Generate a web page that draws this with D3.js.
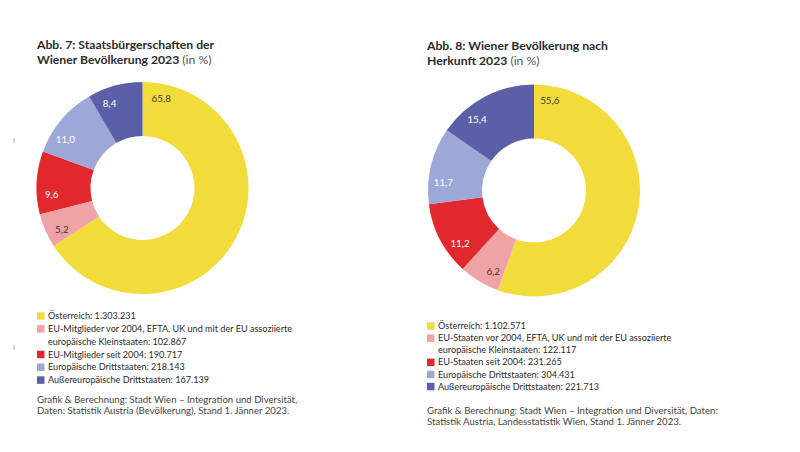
<!DOCTYPE html>
<html><head><meta charset="utf-8">
<script src="https://cdn.jsdelivr.net/npm/d3@7"></script>
<style>body{margin:0;background:#fff;} svg{display:block;}</style>
</head><body>
<script>
// ---- data ----
const colors = ["#f1dc3b", "#f0a3a5", "#e1282c", "#9da8d9", "#5b5fa7"];
const labelColors = ["#3a3a2a", "#3a3a3a", "#ffffff", "#ffffff", "#ffffff"];

const leftTitle = ["Abb. 7: Staatsbürgerschaften der", "Wiener Bevölkerung 2023"];
const leftValues = [65.8, 5.2, 9.6, 11.0, 8.4];
const leftLegend = [
  ["Österreich: 1.303.231"],
  ["EU-Mitglieder vor 2004, EFTA, UK und mit der EU assoziierte", "europäische Kleinstaaten: 102.867"],
  ["EU-Mitglieder seit 2004: 190.717"],
  ["Europäische Drittstaaten: 218.143"],
  ["Außereuropäische Drittstaaten: 167.139"]
];
const leftSource = ["Grafik & Berechnung: Stadt Wien – Integration und Diversität,",
                    "Daten: Statistik Austria (Bevölkerung), Stand 1. Jänner 2023."];

const rightTitle = ["Abb. 8: Wiener Bevölkerung nach", "Herkunft 2023"];
const rightValues = [55.6, 6.2, 11.2, 11.7, 15.4];
const rightLegend = [
  ["Österreich: 1.102.571"],
  ["EU-Staaten vor 2004, EFTA, UK und mit der EU assoziierte", "europäische Kleinstaaten: 122.117"],
  ["EU-Staaten seit 2004: 231.265"],
  ["Europäische Drittstaaten: 304.431"],
  ["Außereuropäische Drittstaaten: 221.713"]
];
const rightSource = ["Grafik & Berechnung: Stadt Wien – Integration und Diversität, Daten:",
                     "Statistik Austria, Landesstatistik Wien, Stand 1. Jänner 2023."];

// ---- layout ----
const W = 800, H = 452;
const svg = d3.select("body").append("svg").attr("width", W).attr("height", H);
const font = "Lato, 'Open Sans', sans-serif";

const panels = [
  {x: 37, title: leftTitle, titleY: 49, cx: 142.5, cy: 188, values: leftValues,
   legend: leftLegend, legendY: 316, legendStep: 12.8, source: leftSource, sourceY: 399.5},
  {x: 427, title: rightTitle, titleY: 50, cx: 534, cy: 190.5, values: rightValues,
   legend: rightLegend, legendY: 326, legendStep: 12.1, source: rightSource, sourceY: 410.5}
];

const fmt = v => d3.format(".1f")(v).replace(".", ",");

panels.forEach(p => {
  const g = svg.append("g");
  // title
  p.title.forEach((line, i) => {
    const t = g.append("text").attr("x", p.x).attr("y", p.titleY + i * 14.5)
      .attr("font-family", font).attr("font-size", 12.2).attr("font-weight", 700)
      .attr("fill", "#2b2b2b").text(line);
    if (i === p.title.length - 1) {
      t.append("tspan").attr("font-weight", 400).attr("fill", "#555").text(" (in %)");
    }
  });

  // donut
  const pie = d3.pie().sort(null).value(d => d).startAngle(0).endAngle(2 * Math.PI);
  const arcs = pie(p.values);
  const arc = d3.arc().innerRadius(52).outerRadius(106);
  const dg = g.append("g").attr("transform", `translate(${p.cx},${p.cy})`);
  dg.selectAll("path").data(arcs).join("path")
    .attr("d", arc).attr("fill", (d, i) => colors[i]);

  dg.selectAll("text").data(arcs).join("text")
    .attr("transform", (d, i) => {
      const frac = i === 0 ? 0.05 : 0.3;
      const a = d.startAngle + frac * (d.endAngle - d.startAngle);
      const r = 91;
      return `translate(${Math.sin(a) * r},${-Math.cos(a) * r})`;
    })
    .attr("text-anchor", "middle").attr("dy", "0.35em")
    .attr("font-family", font).attr("font-size", 9.8)
    .attr("fill", (d, i) => labelColors[i])
    .text(d => fmt(d.data));

  // legend
  let row = 0;
  p.legend.forEach((lines, i) => {
    const y0 = p.legendY + row * p.legendStep;
    g.append("rect").attr("x", p.x).attr("y", y0 - 3.7).attr("width", 7.5).attr("height", 7.5)
      .attr("fill", colors[i]);
    lines.forEach((line, j) => {
      g.append("text").attr("x", p.x + 11).attr("y", p.legendY + (row + j) * p.legendStep)
        .attr("dy", "0.35em").attr("font-family", font).attr("font-size", 9.1)
        .attr("fill", "#2b2b2b").text(line);
    });
    row += lines.length;
  });

  // source
  p.source.forEach((line, i) => {
    g.append("text").attr("x", p.x).attr("y", p.sourceY + i * 10.8)
      .attr("dy", "0.35em").attr("font-family", font).attr("font-size", 9.6)
      .attr("fill", "#444").text(line);
  });
});

// small scan marks at the left edge
[140, 347].forEach(y => {
  svg.append("rect").attr("x", 13.5).attr("y", y - 2).attr("width", 1.2).attr("height", 5).attr("fill", "#bbb");
});
</script>
</body></html>
